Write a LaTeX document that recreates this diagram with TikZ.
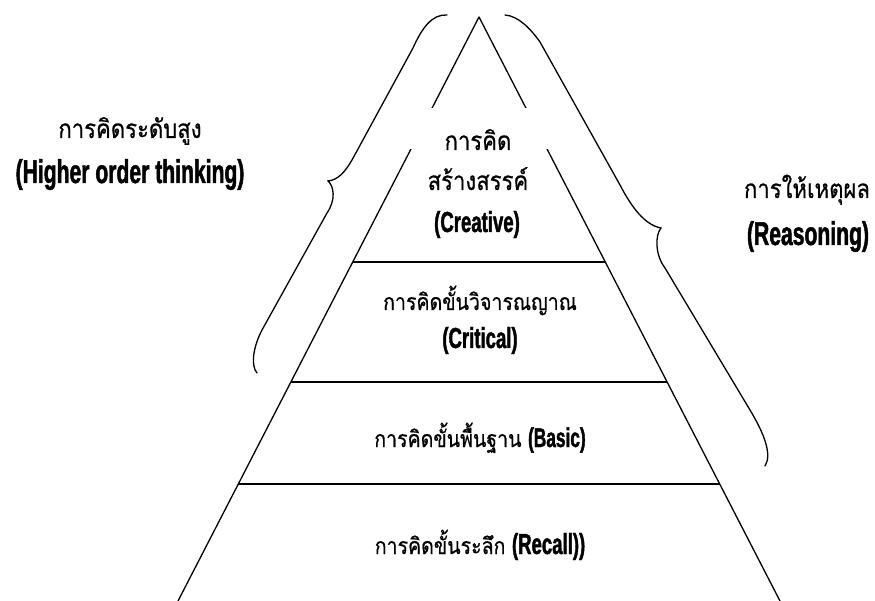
\documentclass[tikz,border=0pt]{standalone}
\usepackage{fontspec}
\usetikzlibrary{calc}
\newfontfamily\thaifont[Script=Thai,FakeStretch=0.85,FakeBold=0.6]{Loma}
\newfontfamily\engfont[FakeStretch=0.64,FakeBold=1.4]{Liberation Sans Bold}
\tikzset{
  side/.style={line width=1.3pt, line join=round},
  level/.style={line width=1.6pt},
  bracepath/.style={line width=1.3pt, line cap=round},
  thai/.style={font=\thaifont\fontsize{26}{30}\selectfont, anchor=base, inner sep=0pt},
  thaism/.style={font=\thaifont\fontsize{23}{27}\selectfont, anchor=base, inner sep=0pt},
  eng/.style={anchor=base, inner sep=0pt},
}
\newcommand{\eng}[2]{{\engfont\fontsize{#1}{#1}\selectfont #2}}
\begin{document}
\begin{tikzpicture}[x=1pt,y=-1pt]
\useasboundingbox (0,0) rectangle (875,601);
% pyramid
\coordinate (A) at (479,17);
\coordinate (BL) at (178,601);
\coordinate (BR) at (780,601);
\draw[side] (BL) -- (A) -- (BR);
\coordinate (L1) at ($(A)!0.4195!(BL)$);
\coordinate (R1) at ($(A)!0.4195!(BR)$);
\coordinate (L2) at ($(A)!0.625!(BL)$);
\coordinate (R2) at ($(A)!0.625!(BR)$);
\coordinate (L3) at ($(A)!0.7997!(BL)$);
\coordinate (R3) at ($(A)!0.7997!(BR)$);
\draw[level] (L1) -- (R1);
\draw[level] (L2) -- (R2);
\draw[level] (L3) -- (R3);
% white mask behind top label
\fill[white] (398,108) rectangle (560,149);
% left brace
\draw[bracepath] (447,15) .. controls (432,14) and (422,28) .. (413,48)
  -- (352,160) .. controls (345,172) and (338,180) .. (328,181)
  .. controls (334,186) and (336,200) .. (327,213)
  -- (262,330) .. controls (254,345) and (250,365) .. (257,373);
% right brace
\draw[bracepath] (505,15) .. controls (518,16) and (530,28) .. (540,42)
  -- (620,185) .. controls (632,208) and (645,225) .. (661,228)
  .. controls (655,235) and (655,255) .. (665,268)
  -- (750,410) .. controls (765,435) and (772,455) .. (765,466);
% labels
\node[thai] (hot) at (130,138) {การคิดระดับสูง};
\node[eng] (hote) at (130,183) {\eng{33}{(Higher order thinking)}};
\node[thai] (rea) at (807,198) {การให้เหตุผล};
\node[eng] (reae) at (808,245) {\eng{33}{(Reasoning)}};
\node[thai] (cr1) at (478,150) {การคิด};
\node[thai] (cr2) at (478,190) {สร้างสรรค์};
\node[eng] (cre) at (477,232) {\eng{29}{(Creative)}};
\node[thaism] (ct1) at (480,310) {การคิดขั้นวิจารณญาณ};
\node[eng] (cte) at (480,348) {\eng{29}{(Critical)}};
\node[thaism] (bas) at (480,447) {การคิดขั้นพื้นฐาน \eng{27}{(Basic)}};
\node[thaism] (rec) at (480,554) {การคิดขั้นระลึก \eng{29}{(Recall))}};
\end{tikzpicture}
\end{document}
